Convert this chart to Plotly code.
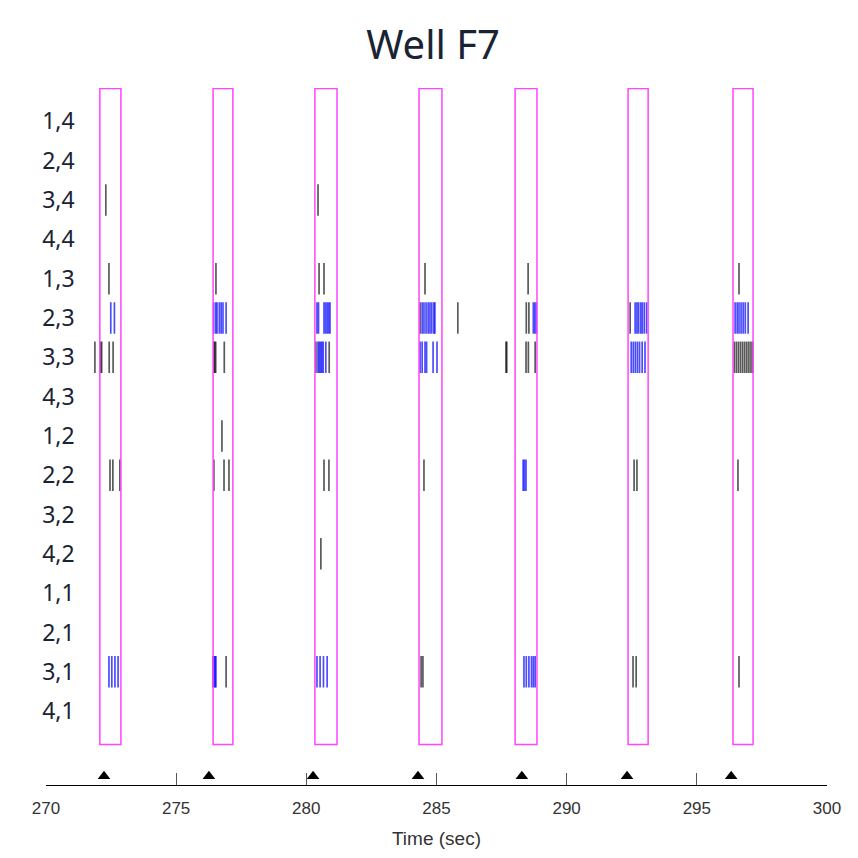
import plotly.graph_objects as go

channels = ["1,4","2,4","3,4","4,4","1,3","2,3","3,3","4,3","1,2","2,2","3,2","4,2","1,1","2,1","3,1","4,1"]

burst_start = [272.07, 276.42, 280.33, 284.33, 288.02, 292.36, 296.39]
burst_end   = [272.88, 277.18, 281.18, 285.21, 288.86, 293.13, 297.16]
network_markers = [272.23, 276.26, 280.26, 284.29, 288.28, 292.32, 296.32]

# black (non-burst) spikes per channel
black_spikes = {
    "3,4": [272.30, 280.45],
    "1,3": [272.42, 276.53, 280.49, 280.68, 284.56, 288.52, 296.62],
    "2,3": [284.37, 285.82, 288.45, 288.55, 292.44],
    "3,3": [271.88, 272.10, 272.14, 272.43, 272.58, 276.45, 276.48, 276.52, 276.85, 280.37, 280.88,
            287.67, 287.70, 288.44, 288.53, 288.79,
            296.44, 296.52, 296.60, 296.68, 296.76, 296.84, 296.92, 297.00, 297.08, 297.15],
    "1,2": [276.76],
    "2,2": [272.46, 272.57, 272.84, 276.45, 276.84, 277.03, 280.68, 280.87, 284.52, 292.59, 292.70, 296.58],
    "4,2": [280.56],
    "3,1": [276.92, 284.41, 284.48, 292.55, 292.67, 296.62],
}
# blue (in-burst) spikes per channel
blue_spikes = {
    "2,3": [272.49, 272.63, 276.44, 276.52, 276.57, 276.66, 276.73, 276.80, 276.92,
            280.41, 280.47, 280.68, 280.74, 280.80, 280.86, 280.91,
            284.45, 284.52, 284.60, 284.68, 284.75, 284.82, 284.90, 284.94,
            288.72, 288.78, 288.84,
            292.63, 292.70, 292.76, 292.84, 292.90, 292.98, 293.07,
            296.47, 296.55, 296.62, 296.70, 296.78, 296.86, 296.97],
    "3,3": [280.45, 280.50, 280.55, 280.60, 280.65, 280.75,
            284.37, 284.45, 284.56, 284.62, 284.87, 285.02,
            292.48, 292.56, 292.64, 292.72, 292.80, 292.90, 293.01],
    "2,2": [288.33, 288.38, 288.44],
    "3,1": [272.42, 272.53, 272.65, 272.77, 276.42, 276.46, 276.50, 276.53,
            280.41, 280.53, 280.66, 280.80, 288.36, 288.45, 288.55, 288.65, 288.72, 288.79],
}

def segs(d):
    xs, ys = [], []
    for ch, ts in d.items():
        yi = channels.index(ch)
        for t in ts:
            xs += [t, t, None]
            ys += [yi - 0.4, yi + 0.4, None]
    return xs, ys

fig = go.Figure()
bx, by = segs(black_spikes)
fig.add_trace(go.Scatter(x=bx, y=by, mode="lines", line=dict(color="rgba(0,0,0,0.65)", width=1.7),
                         showlegend=False, hoverinfo="skip"))
ux, uy = segs(blue_spikes)
fig.add_trace(go.Scatter(x=ux, y=uy, mode="lines", line=dict(color="rgba(0,0,255,0.7)", width=1.7),
                         showlegend=False, hoverinfo="skip"))

for s, e in zip(burst_start, burst_end):
    fig.add_shape(type="rect", xref="x", yref="y", x0=s, x1=e, y0=-0.84, y1=15.85,
                  line=dict(color="#ff44ff", width=1.5), fillcolor="rgba(0,0,0,0)")

AXIS_Y = 16.88
fig.add_trace(go.Scatter(x=network_markers, y=[AXIS_Y - 0.22] * len(network_markers), mode="markers",
                         marker=dict(symbol="triangle-up", size=11, color="black"),
                         cliponaxis=False, showlegend=False, hoverinfo="skip"))

fig.update_layout(
    width=850, height=850, plot_bgcolor="white", paper_bgcolor="white",
    margin=dict(l=22, r=31, t=80, b=73),
    title=dict(text="Well F7", x=0.5, xanchor="center", y=0.956, yanchor="middle",
               font=dict(family="Noto Sans", size=40, color="#1a2333")),
    xaxis=dict(domain=[0.02, 1], range=[270, 300], tickvals=[270, 275, 280, 285, 290, 295, 300],
               automargin=False,
               showgrid=False, zeroline=False, showline=True, linecolor="black", linewidth=1,
               ticks="inside", ticklen=12, tickcolor="#555", mirror=False, ticklabelstandoff=8,
               tickfont=dict(family="Liberation Sans", size=17, color="#333"),
               title=dict(text="Time (sec)", font=dict(family="Liberation Sans", size=19, color="#333"),
                          standoff=14)),
    yaxis=dict(range=[AXIS_Y, -0.85], anchor="free", position=0.056, tickvals=list(range(len(channels))),
               automargin=False,
               ticktext=channels, showgrid=False, zeroline=False,
               showline=False, ticks="",
               tickfont=dict(family="Noto Sans", size=23, color="#1a2333")),
)

fig.write_html("out.html")
